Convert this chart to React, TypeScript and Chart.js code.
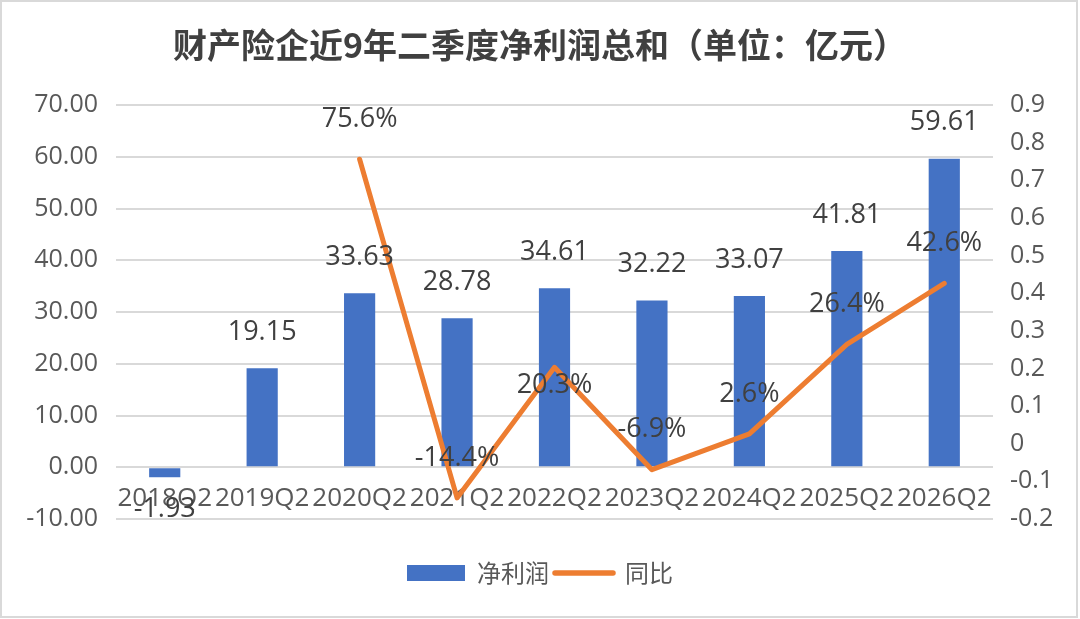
import React, { useEffect, useRef } from 'react';
import { Chart, registerables } from 'chart.js';

Chart.register(...registerables);

const categories = ['2018Q2', '2019Q2', '2020Q2', '2021Q2', '2022Q2', '2023Q2', '2024Q2', '2025Q2', '2026Q2'];
const netProfit = [-1.93, 19.15, 33.63, 28.78, 34.61, 32.22, 33.07, 41.81, 59.61];
const yoyGrowth = [null, null, 0.756, -0.144, 0.203, -0.069, 0.026, 0.264, 0.426];

const BLUE = '#4472C4';
const ORANGE = '#ED7D31';
const NUM_FONT = '"Open Sans", "Noto Sans CJK SC", sans-serif';

// percentage label for 2022Q2 sits below the peak in the original
const lineLabelBelow = [4];

const valueLabels = {
  id: 'valueLabels',
  afterDatasetsDraw(chart: any) {
    const ctx = chart.ctx;
    ctx.save();
    ctx.font = `27px ${NUM_FONT}`;
    ctx.fillStyle = '#404040';
    ctx.textAlign = 'center';
    ctx.textBaseline = 'middle';

    chart.getDatasetMeta(0).data.forEach((bar: any, i: number) => {
      const v = netProfit[i];
      const y = v >= 0 ? bar.y - 36 : bar.y + 32;
      ctx.fillText(v.toFixed(2), bar.x, y);
    });

    chart.getDatasetMeta(1).data.forEach((pt: any, i: number) => {
      const v = yoyGrowth[i];
      if (v === null) return;
      const y = lineLabelBelow.includes(i) ? pt.y + 18 : pt.y - 40;
      ctx.fillText((v * 100).toFixed(1) + '%', pt.x, y);
    });
    ctx.restore();
  },
};

const App: React.FC = () => {
  const chartRef = useRef<HTMLCanvasElement>(null);
  const chartInstance = useRef<Chart | null>(null);

  useEffect(() => {
    document.body.style.margin = '0';
    if (!chartRef.current) return;
    if (chartInstance.current) chartInstance.current.destroy();

    chartInstance.current = new Chart(chartRef.current, {
      type: 'bar',
      data: {
        labels: categories,
        datasets: [
          {
            type: 'bar',
            label: '净利润',
            data: netProfit,
            backgroundColor: BLUE,
            yAxisID: 'y',
            order: 2,
            barPercentage: 0.32,
            categoryPercentage: 1,
          },
          {
            type: 'line',
            label: '同比',
            data: yoyGrowth,
            borderColor: ORANGE,
            backgroundColor: ORANGE,
            borderWidth: 5,
            borderCapStyle: 'round',
            borderJoinStyle: 'round',
            pointRadius: 0,
            tension: 0,
            yAxisID: 'y1',
            order: 1,
          },
        ] as any,
      },
      options: {
        animation: false,
        responsive: false,
        layout: { padding: { left: 0, right: 0, top: 0, bottom: 24 } },
        scales: {
          x: {
            position: { y: 0 } as any,
            grid: { display: false },
            border: { display: false },
            ticks: {
              autoSkip: false,
              maxRotation: 0,
              padding: 8,
              color: '#595959',
              font: { family: NUM_FONT, size: 26 },
            },
          },
          y: {
            position: 'left',
            min: -10,
            max: 70,
            border: { display: false },
            grid: { color: '#d9d9d9', lineWidth: 2, drawTicks: false },
            ticks: {
              stepSize: 10,
              padding: 18,
              color: '#595959',
              font: { family: NUM_FONT, size: 25 },
              callback: (v: any) => Number(v).toFixed(2),
            },
            afterFit: (s: any) => { s.width = 116; },
          },
          y1: {
            position: 'right',
            min: -0.2,
            max: 0.9,
            border: { display: false },
            grid: { display: false, drawTicks: false },
            ticks: {
              stepSize: 0.1,
              padding: 17,
              color: '#595959',
              font: { family: NUM_FONT, size: 25 },
              callback: (v: any) => String(Math.round(Number(v) * 10) / 10),
            },
            afterFit: (s: any) => { s.width = 87; },
          },
        },
        plugins: {
          title: {
            display: true,
            text: '财产险企近9年二季度净利润总和（单位：亿元）',
            color: '#404040',
            font: { family: '"Noto Sans CJK SC", sans-serif', size: 34, weight: 'bold', lineHeight: 1.2 },
            padding: { top: 24.6, bottom: 39.6 },
          },
          legend: {
            position: 'bottom',
            title: { display: true, text: '', padding: 0, font: { size: 30, lineHeight: 1.2 } },
            labels: {
              usePointStyle: true,
              pointStyleWidth: 58,
              boxHeight: 16,
              padding: 6,
              color: '#595959',
              font: { family: '"Noto Sans CJK SC", sans-serif', size: 24 },
              sort: (a: any, b: any) => a.datasetIndex - b.datasetIndex,
              generateLabels: (chart: any) =>
                chart.data.datasets.map((ds: any, i: number) => ({
                  text: ds.label,
                  datasetIndex: i,
                  fillStyle: i === 0 ? BLUE : ORANGE,
                  strokeStyle: i === 0 ? BLUE : ORANGE,
                  lineWidth: i === 0 ? 0 : 5.5,
                  lineCap: 'round',
                  pointStyle: i === 0 ? 'rect' : 'line',
                  fontColor: '#595959',
                  hidden: false,
                })),
            },
          },
          tooltip: { enabled: false },
        },
      },
      plugins: [valueLabels],
    });

    return () => {
      if (chartInstance.current) {
        chartInstance.current.destroy();
        chartInstance.current = null;
      }
    };
  }, []);

  return (
    <div style={{ position: 'relative', width: 1080, height: 619, background: '#fff' }}>
      <canvas ref={chartRef} width={1080} height={619} style={{ display: 'block' }} />
      <div
        style={{
          position: 'absolute',
          left: 0,
          top: 0,
          width: 1078,
          height: 618,
          boxSizing: 'border-box',
          border: '2px solid #d9d9d9',
          pointerEvents: 'none',
        }}
      />
    </div>
  );
};

export default App;
